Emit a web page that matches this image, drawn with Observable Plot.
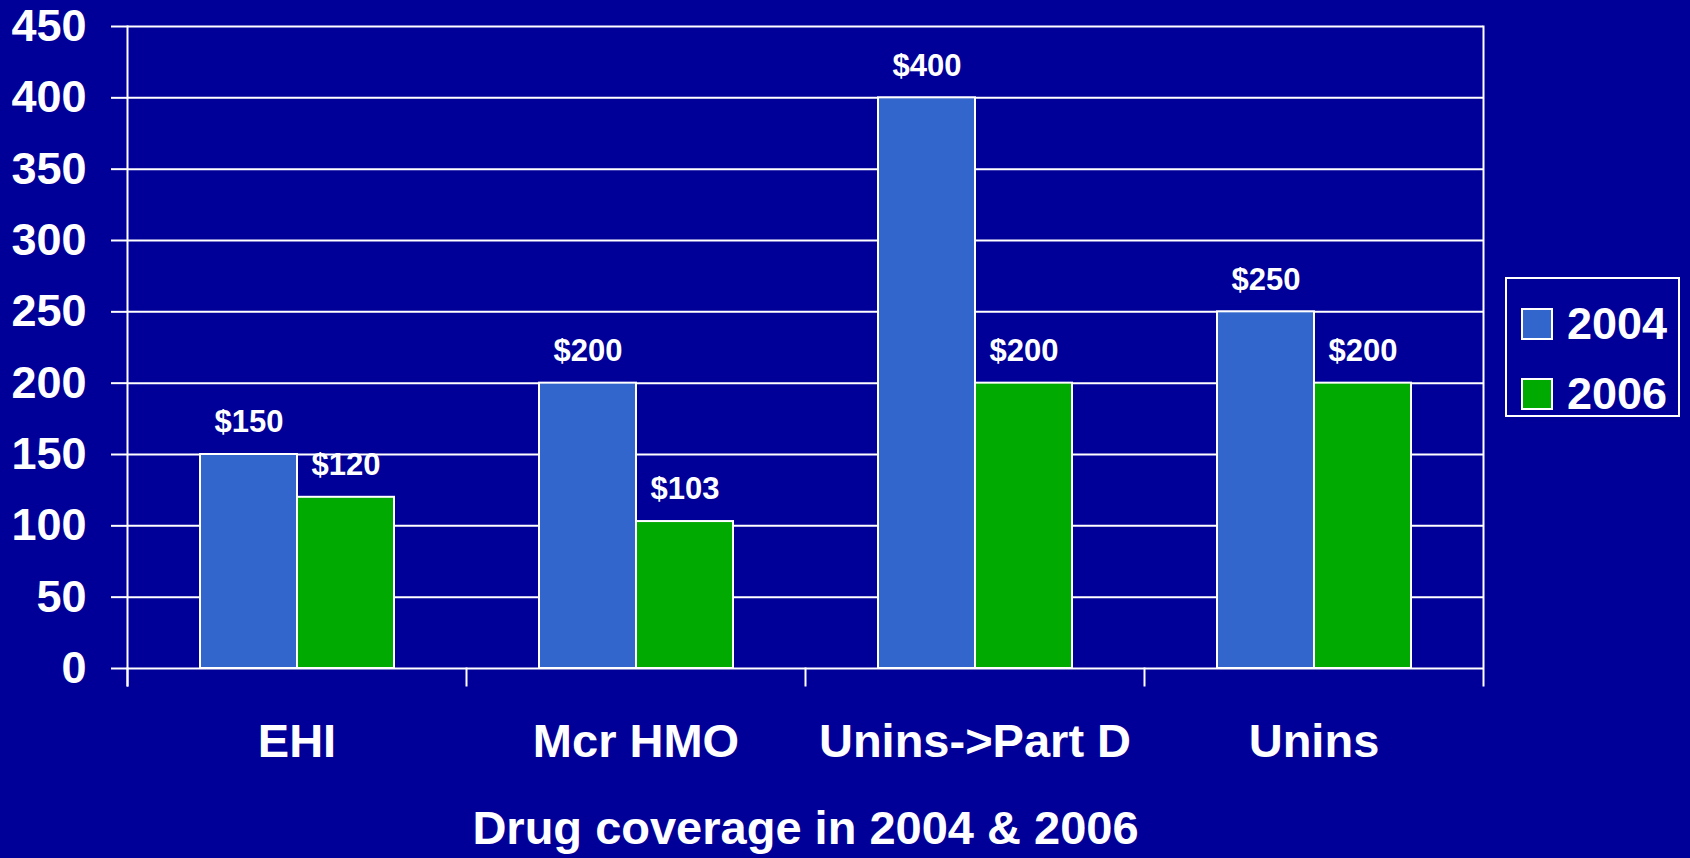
<!DOCTYPE html>
<html>
<head>
<meta charset="utf-8">
<script src="https://cdn.jsdelivr.net/npm/d3@7"></script>
<script src="https://cdn.jsdelivr.net/npm/@observablehq/plot@0.6"></script>
<style>
  html, body { margin: 0; padding: 0; background: #000099; }
  #wrap { position: relative; width: 1690px; height: 858px; background: #000099; font-family: "Liberation Sans", Arial, sans-serif; }
  #legend { position: absolute; left: 1505px; top: 277px; width: 171px; height: 136px; border: 2px solid #fff; }
  .row { position: absolute; left: 14px; display: flex; align-items: center; }
  .sw { width: 28px; height: 28px; border: 2px solid #fff; margin-right: 14px; }
  .lab { color: #fff; font-weight: bold; font-size: 45px; line-height: 1; }
</style>
</head>
<body>
<div id="wrap"></div>
<script>
const categories = ["EHI", "Mcr HMO", "Unins->Part D", "Unins"];
const years = ["2004", "2006"];
const values2004 = [150, 200, 400, 250];
const values2006 = [120, 103, 200, 200];
const colors = ["#3366CC", "#00AA00"];
const yTicks = [0, 50, 100, 150, 200, 250, 300, 350, 400, 450];
const xTitle = "Drug coverage in 2004 & 2006";

const data = [];
categories.forEach((c, i) => {
  data.push({cat: c, year: years[0], value: values2004[i]});
  data.push({cat: c, year: years[1], value: values2006[i]});
});

const W = 1690, H = 858, mL = 127, mR = 207, mT = 26, mB = 190;
const innerH = H - mT - mB;
const white = "#ffffff";

const chart = Plot.plot({
  width: W, height: H,
  marginLeft: mL, marginRight: mR, marginTop: mT, marginBottom: mB,
  style: {background: "#000099", fontFamily: "'Liberation Sans', Arial, sans-serif", color: white},
  fx: {domain: categories, padding: 0, label: null},
  x: {domain: years, paddingInner: 0, paddingOuter: 0.74, axis: null},
  y: {domain: [0, 450], axis: null},
  color: {domain: years, range: colors},
  marks: [
    Plot.ruleY(yTicks, {stroke: white, strokeWidth: 2}),
    Plot.barY(data, {fx: "cat", x: "year", y: "value", fill: "year", stroke: white, strokeWidth: 2}),
    Plot.text(data, {fx: "cat", x: "year", y: "value", text: d => "$" + d.value, dy: -32,
      fill: white, fontSize: 31, fontWeight: "bold"}),
    Plot.frame({facet: "super", anchor: "left", stroke: white, strokeWidth: 2, insetBottom: -17}),
    Plot.frame({facet: "super", anchor: "right", stroke: white, strokeWidth: 2, insetBottom: -17}),
    Plot.frame({anchor: "left", stroke: white, strokeWidth: 2, insetTop: innerH, insetBottom: -17}),
    Plot.axisY(yTicks, {anchor: "left", tickSize: 16, tickPadding: 25, fontSize: 45, fontWeight: "bold",
      color: white, strokeWidth: 2, label: null}),
    Plot.axisFx({anchor: "bottom", tickSize: 0, tickPadding: 55, fontSize: 47, fontWeight: "bold",
      color: white, label: xTitle, labelAnchor: "center", labelOffset: 175})
  ]
});

const wrap = document.getElementById("wrap");
wrap.appendChild(chart);

const legend = document.createElement("div");
legend.id = "legend";
years.forEach((y, i) => {
  const row = document.createElement("div");
  row.className = "row";
  row.style.top = (22 + i * 70) + "px";
  const sw = document.createElement("div");
  sw.className = "sw";
  sw.style.background = colors[i];
  const lab = document.createElement("span");
  lab.className = "lab";
  lab.textContent = y;
  row.appendChild(sw);
  row.appendChild(lab);
  legend.appendChild(row);
});
wrap.appendChild(legend);
</script>
</body>
</html>
